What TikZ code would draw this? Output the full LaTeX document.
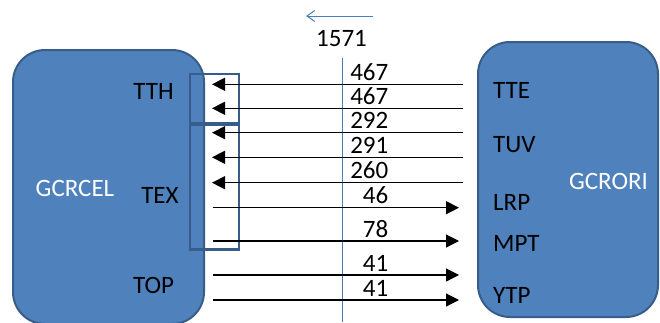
\documentclass[tikz,border=0pt]{standalone}
\usepackage{fontspec}
\setmainfont{Carlito}
\usetikzlibrary{arrows.meta}
\definecolor{boxfill}{HTML}{4F81BD}
\definecolor{boxline}{HTML}{385D8A}
\definecolor{thinblue}{HTML}{4A7EBB}
\tikzset{
  bigbox/.style={draw=boxline, line width=2pt, fill=boxfill, rounded corners=32pt, inner sep=0pt},
  lbl/.style={inner sep=0pt, font=\fontsize{25}{30}\selectfont},
  wlbl/.style={lbl, text=white},
  numlbl/.style={lbl, anchor=east},
  arr/.style={line width=1.2pt, -{Triangle[length=13pt,width=13pt]}},
  grp/.style={draw=boxline, line width=2.5pt},
}
\begin{document}
\begin{tikzpicture}[x=1pt,y=-1pt]
\useasboundingbox (0,0) rectangle (660,322);
% boxes
\node[bigbox, minimum width=191pt, minimum height=274pt] (cel) at (108.5,187) {};
\node[bigbox, minimum width=180pt, minimum height=275pt] (ori) at (568,179.5) {};
% box labels
\node[wlbl] (celname) at (75,188) {GCRCEL};
\node[wlbl] (oriname) at (608.5,181.5) {GCRORI};
\node[lbl] (tth) at (153.5,91.7) {TTH};
\node[lbl] (tex) at (160,195) {TEX};
\node[lbl] (top) at (153.5,285) {TOP};
\node[lbl, anchor=west] (tte) at (493,90.8) {TTE};
\node[lbl, anchor=west] (tuv) at (493,144.8) {TUV};
\node[lbl, anchor=west] (lrp) at (493,202.5) {LRP};
\node[lbl, anchor=west] (mpt) at (493,243) {MPT};
\node[lbl, anchor=west] (ytp) at (493,295.8) {YTP};
% group rectangles
\node[grp, minimum width=49pt, minimum height=48.7pt, inner sep=0pt] (g1) at (214.5,98.4) {};
\node[grp, minimum width=49pt, minimum height=124.3pt, inner sep=0pt] (g2) at (214.5,187.2) {};
% vertical line
\coordinate (vt) at (342.3,58);
\coordinate (vb) at (342.3,322);
\draw[thinblue, line width=1pt] (vt) -- (vb);
% top arrow
\coordinate (ta) at (373,16);
\coordinate (tb) at (306,16);
\draw[thinblue, line width=1pt, -{Straight Barb[length=8pt,width=11pt]}] (ta) -- (tb);
\node[lbl] (total) at (341.5,38.5) {1571};
% incoming arrows (right to left)
\foreach \i/\y in {1/84.3, 2/108.3, 3/132.7, 4/157.3, 5/182.7} {
  \coordinate (ls\i) at (463,\y);
  \coordinate (le\i) at (212,\y);
  \draw[arr] (ls\i) -- (le\i);
}
% outgoing arrows (left to right)
\foreach \i/\y in {1/207.7, 2/241, 3/275, 4/300} {
  \coordinate (rs\i) at (213,\y);
  \coordinate (re\i) at (459,\y);
  \draw[arr] (rs\i) -- (re\i);
}
% numbers
\node[numlbl] (n1) at (388.5,72) {467};
\node[numlbl] (n2) at (388.5,95.7) {467};
\node[numlbl] (n3) at (388.5,120) {292};
\node[numlbl] (n4) at (388.5,145) {291};
\node[numlbl] (n5) at (388.5,170) {260};
\node[numlbl] (n6) at (388.5,195) {46};
\node[numlbl] (n7) at (388.5,228.7) {78};
\node[numlbl] (n8) at (388.5,263) {41};
\node[numlbl] (n9) at (388.5,288) {41};
\end{tikzpicture}
\end{document}
